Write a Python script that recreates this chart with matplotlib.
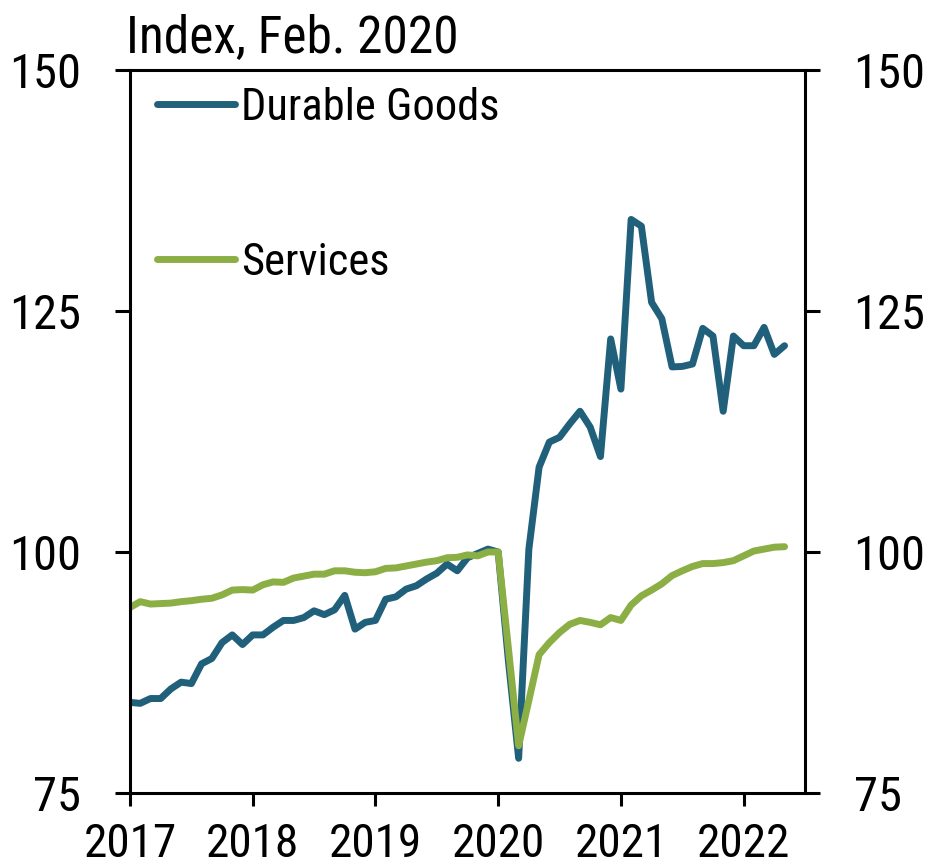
import numpy as np
import matplotlib
matplotlib.use("Agg")
import matplotlib.pyplot as plt
from matplotlib import font_manager

# pick a narrow sans font if one is installed
installed = {f.name for f in font_manager.fontManager.ttflist}
fontName = "Liberation Sans"
for cand in ["Liberation Sans Narrow", "Arial Narrow", "Roboto Condensed",
             "PT Sans Narrow", "Archivo Narrow", "Pragati Narrow",
             "Barlow Semi Condensed"]:
    if cand in installed:
        fontName = cand
        break
plt.rcParams["font.family"] = [fontName, "DejaVu Sans"]

###############################################################################
# Data (monthly, first point = Jan 2017)
###############################################################################
durable = [84.4, 84.3, 84.8, 84.8, 85.8, 86.5, 86.35, 88.4, 88.95, 90.6,
           91.4, 90.4, 91.4, 91.4, 92.2, 92.9, 92.9, 93.2, 93.9, 93.5,
           94.0, 95.5, 92.0, 92.7, 92.9, 95.1, 95.35, 96.15, 96.5, 97.2,
           97.8, 98.75, 98.05, 99.4, 99.85, 100.3, 100.0, 88.7, 78.6, 100.3,
           108.8, 111.4, 111.9, 113.3, 114.6, 112.95, 109.9, 122.1, 116.9, 134.5,
           133.8, 125.9, 124.2, 119.2, 119.25, 119.5, 123.2, 122.4, 114.6, 122.4,
           121.4, 121.4, 123.3, 120.5, 121.4]
services = [94.25, 94.85, 94.6, 94.65, 94.7, 94.85, 94.95, 95.1, 95.2, 95.55,
            96.05, 96.1, 96.05, 96.6, 96.9, 96.85, 97.3, 97.5, 97.7, 97.7,
            98.05, 98.05, 97.9, 97.85, 97.95, 98.3, 98.35, 98.55, 98.75, 98.95,
            99.1, 99.4, 99.45, 99.7, 99.6, 100.0, 100.0, 90.0, 79.9, 84.6,
            89.35, 90.6, 91.65, 92.5, 92.9, 92.7, 92.45, 93.2, 92.9, 94.5,
            95.45, 96.05, 96.7, 97.55, 98.05, 98.5, 98.8, 98.8, 98.9, 99.1,
            99.6, 100.1, 100.3, 100.5, 100.55]
startYear = 2017
yearTicks = [2017, 2018, 2019, 2020, 2021, 2022]
yTicks = [75, 100, 125, 150]

months = startYear + np.arange(len(durable)) / 12.0

blueCol = "#21607B"
greenCol = "#8BAF45"

###############################################################################
# Plot
###############################################################################
fig = plt.figure(figsize=(9.25, 8.68), dpi=100)
ax = fig.add_axes([130/925, 1-793/868, 675/925, 723/868])

ax.plot(months, durable, color=blueCol, linewidth=5, label="Durable Goods",
        solid_capstyle="round", solid_joinstyle="round")
ax.plot(months, services, color=greenCol, linewidth=5, label="Services",
        solid_capstyle="round", solid_joinstyle="round")

ax.set_xlim(2017, 2022.5)
ax.set_ylim(75, 150)
ax.set_xticks(yearTicks)
ax.set_yticks(yTicks)

for s in ax.spines.values():
    s.set_linewidth(2.2)
    s.set_color("black")

ax.tick_params(axis="y", which="both", left=True, right=True,
               labelleft=True, labelright=True, direction="out",
               length=11, width=2.2, pad=24, labelsize=35)
ax.tick_params(axis="x", direction="out", length=9.5, width=2.2, pad=11.5,
               labelsize=34)

fig.text(126/925, 1-52/868, "Index, Feb. 2020", fontsize=37,
         ha="left", va="baseline")

leg = ax.legend(loc="upper left", bbox_to_anchor=(0.04, 0.977),
                frameon=False, fontsize=32, handlelength=1.75,
                handletextpad=0.15, labelspacing=2.55, borderpad=0,
                borderaxespad=0)

fig.savefig("out.png", dpi=100)
